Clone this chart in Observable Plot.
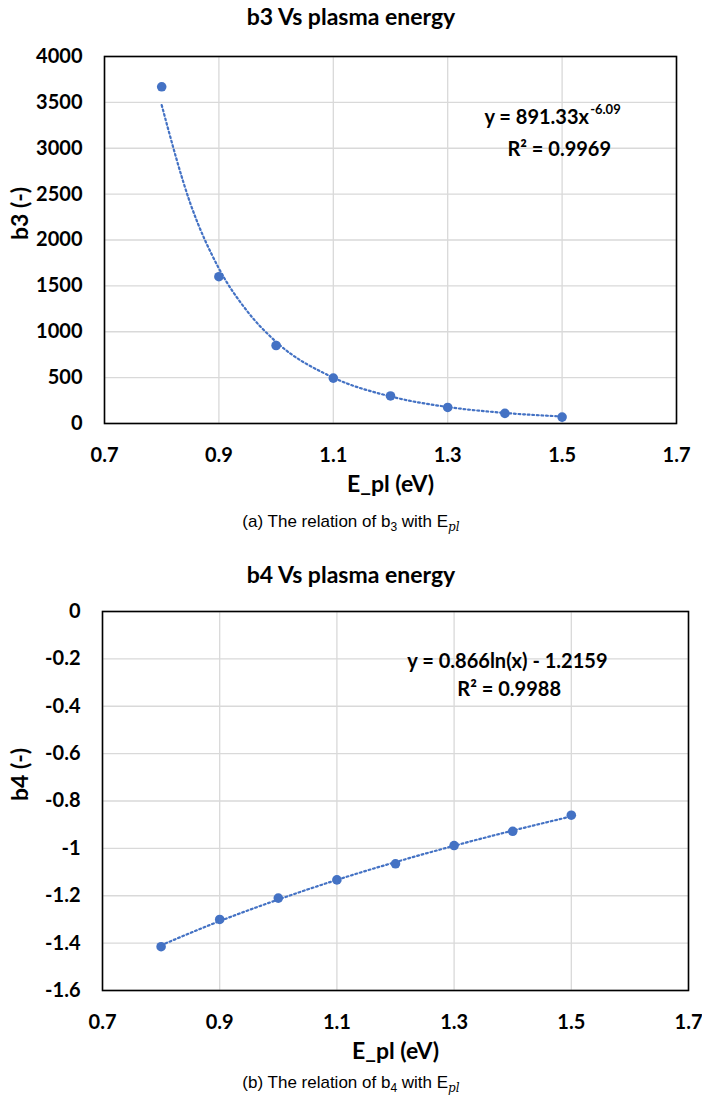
<!DOCTYPE html>
<html>
<head>
<meta charset="utf-8">
<script src="https://cdn.jsdelivr.net/npm/d3@7"></script>
<script src="https://cdn.jsdelivr.net/npm/@observablehq/plot@0.6"></script>
<style>
  html, body { margin: 0; padding: 0; background: #fff; }
  body { position: relative; width: 702px; height: 1100px; overflow: hidden; }
  .title { position: absolute; left: 0; width: 702px; text-align: center; font-family: Lato, sans-serif; font-weight: bold; font-size: 23px; color: #000; line-height: 30px; }
  .caption { position: absolute; left: 0; width: 702px; text-align: center; font-family: "Liberation Sans", Arial, sans-serif; font-size: 17px; color: #000; line-height: 22px; }
  .caption sub { font-size: 12px; }
  .caption .m { font-family: "DejaVu Serif", serif; font-style: italic; }
  .chart { position: absolute; left: 0; }
</style>
</head>
<body>
<div class="title" style="top:1px">b3 Vs plasma energy</div>
<div class="chart" id="c1" style="top:30px"></div>
<div class="caption" style="top:511px">(a) The relation of b<sub>3</sub> with E<sub class="m">pl</sub></div>
<div class="title" style="top:559px">b4 Vs plasma energy</div>
<div class="chart" id="c2" style="top:590px"></div>
<div class="caption" style="top:1072px">(b) The relation of b<sub>4</sub> with E<sub class="m">pl</sub></div>
<script>
// ---- data ----
const energy = [0.8, 0.9, 1.0, 1.1, 1.2, 1.3, 1.4, 1.5];
const b3 = [3670, 1600, 850, 495, 300, 175, 110, 70];
const b3TrendX = [0.8, 0.85, 0.9, 0.95, 1.0, 1.1, 1.2, 1.3, 1.4, 1.5];
const b3Trend = [3470, 2400, 1690, 1220, 890, 500, 295, 180, 115, 76];
const b4 = [-1.415, -1.30, -1.21, -1.133, -1.065, -0.988, -0.928, -0.86];
const b4Trend = [-1.409, -1.307, -1.216, -1.133, -1.058, -0.989, -0.925, -0.865];
const xTicks = [0.7, 0.9, 1.1, 1.3, 1.5, 1.7];
const b3Ticks = [0, 500, 1000, 1500, 2000, 2500, 3000, 3500, 4000];
const b4Ticks = [0, -0.2, -0.4, -0.6, -0.8, -1.0, -1.2, -1.4, -1.6];

const BLUE = "#4472C4";
const GRID = "#d9d9d9";

function chart(cfg) {
  const pts = energy.map((e, i) => ({x: e, y: cfg.values[i]}));
  const tr = cfg.trendX.map((e, i) => ({x: e, y: cfg.trend[i]}));
  return Plot.plot({
    width: 702,
    height: cfg.height,
    marginLeft: cfg.mL, marginRight: cfg.mR, marginTop: cfg.mT, marginBottom: cfg.mB,
    style: {fontFamily: "Lato, sans-serif", fontWeight: "bold", fontSize: "20px", color: "#000", background: "transparent", overflow: "visible"},
    x: {domain: [0.7, 1.7]},
    y: {domain: cfg.yDomain},
    marks: [
      Plot.gridX(xTicks, {stroke: GRID, strokeOpacity: 1, strokeWidth: 1.3}),
      Plot.gridY(cfg.yTicks, {stroke: GRID, strokeOpacity: 1, strokeWidth: 1.3}),
      Plot.line(tr, {x: "x", y: "y", stroke: BLUE, strokeWidth: 2.2, strokeDasharray: "1.8 2.8", curve: "monotone-x"}),
      Plot.dot(pts, {x: "x", y: "y", r: 4.8, fill: BLUE, stroke: null}),
      Plot.frame({stroke: "#000", strokeWidth: 1.6}),
      Plot.axisX(xTicks, {tickSize: 0, tickPadding: 24, tickFormat: d => d.toFixed(1), label: null, fontSize: 20}),
      Plot.axisY(cfg.yTicks, {tickSize: 0, tickPadding: 22, tickFormat: cfg.yFmt, label: null, fontSize: 20}),
      Plot.text(["E_pl (eV)"], {text: d => d, frameAnchor: "bottom", dy: 61, fontSize: 23, fontWeight: "bold", lineAnchor: "middle"}),
      Plot.text([cfg.yLabel], {text: d => d, frameAnchor: "left", dx: cfg.yLabelDx, rotate: -90, fontSize: 23, fontWeight: "bold", lineAnchor: "middle"}),
      ...cfg.extra
    ]
  });
}

const c1 = chart({
  height: 480, mL: 104, mR: 26, mT: 26, mB: 87,
  yDomain: [0, 4000], yTicks: b3Ticks, yFmt: d => String(d),
  values: b3, trendX: b3TrendX, trend: b3Trend, yLabel: "b3 (-)", yLabelDx: -84,
  extra: [
    Plot.text(["y = 891.33x"], {text: d => d, x: 1.547, y: 3330, textAnchor: "end", lineAnchor: "middle", fontSize: 20}),
    Plot.text(["-6.09"], {text: d => d, x: 1.549, y: 3330, dy: -8, textAnchor: "start", lineAnchor: "middle", fontSize: 13}),
    Plot.text(["R² = 0.9969"], {text: d => d, x: 1.495, y: 2985, lineAnchor: "middle", fontSize: 20})
  ]
});
document.getElementById("c1").appendChild(c1);

const c2 = chart({
  height: 480, mL: 102, mR: 14, mT: 21, mB: 80,
  yDomain: [-1.6, 0], yTicks: b4Ticks, yFmt: d => String(+d.toFixed(1)),
  values: b4, trendX: energy, trend: b4Trend, yLabel: "b4 (-)", yLabelDx: -82,
  extra: [
    Plot.text(["y = 0.866ln(x) - 1.2159"], {text: d => d, x: 1.391, y: -0.21, lineAnchor: "middle", fontSize: 20}),
    Plot.text(["R² = 0.9988"], {text: d => d, x: 1.394, y: -0.33, lineAnchor: "middle", fontSize: 20})
  ]
});
document.getElementById("c2").appendChild(c2);
</script>
</body>
</html>
